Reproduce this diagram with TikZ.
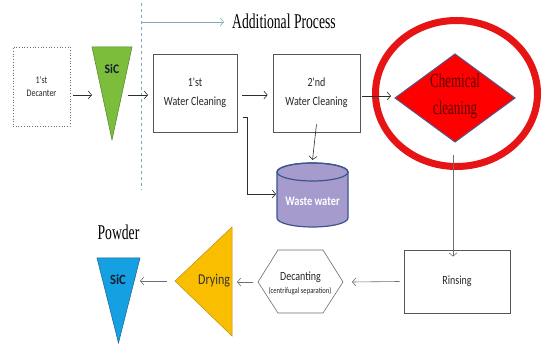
\documentclass[tikz,border=0pt]{standalone}
\usepackage{fontspec}
\setmainfont{Liberation Serif}
\newfontfamily\labelsans[FakeStretch=0.8]{Carlito}
\newfontfamily\sicsans[FakeStretch=0.9]{Carlito}
\newfontfamily\titleserif[FakeStretch=0.65]{Liberation Serif}
\usetikzlibrary{arrows.meta}

\definecolor{linedark}{RGB}{45,45,45}
\definecolor{linegray}{RGB}{110,110,110}
\definecolor{boxline}{RGB}{85,85,85}
\definecolor{sicgreen}{RGB}{124,190,60}
\definecolor{sicgreenline}{RGB}{80,130,40}
\definecolor{sicblue}{RGB}{20,160,225}
\definecolor{sicblueline}{RGB}{30,95,150}
\definecolor{dryamber}{RGB}{250,190,0}
\definecolor{dryamberline}{RGB}{190,140,20}
\definecolor{tanklilac}{RGB}{165,155,205}
\definecolor{tankline}{RGB}{60,85,140}
\definecolor{chemred}{RGB}{255,0,0}
\definecolor{chemline}{RGB}{85,85,140}
\definecolor{chemtext}{RGB}{90,0,0}
\definecolor{ringred}{RGB}{230,20,20}
\definecolor{extrateal}{RGB}{125,172,190}
\definecolor{sictext}{RGB}{20,30,45}

\begin{document}
\begin{tikzpicture}[x=1pt,y=-1pt,
  flow/.style={draw=linedark,line width=0.6pt,-{Straight Barb[length=3.5pt,width=8pt]}},
  flowgray/.style={flow,draw=linegray},
  stepbox/.style={draw=boxline,line width=0.7pt,fill=white,inner sep=0pt,
    font=\labelsans\fontsize{12.5}{19}\selectfont,align=center,text=black!85},
  label/.style={inner sep=0pt,align=center},
]
\useasboundingbox (0,0) rectangle (546,344);

% --- upper row -------------------------------------------------------
\node[stepbox,draw=linegray,dotted,minimum width=57pt,minimum height=79pt,
      font=\labelsans\fontsize{10}{13}\selectfont] (decanter) at (41.5,86.5) {1'st\\Decanter};

% green SiC hopper
\filldraw[fill=sicgreen,draw=sicgreenline,line width=0.5pt] (92,47) -- (132,47) -- (112,140) -- cycle;
\node[label,font=\sicsans\bfseries\fontsize{13}{15}\selectfont,text=sictext] (sicgreen) at (112,69) {SiC};

\node[stepbox,minimum width=84pt,minimum height=78pt] (wc1) at (195,93) {1'st\\Water Cleaning};
\node[stepbox,minimum width=87pt,minimum height=78pt] (wc2) at (316.5,93) {2'nd\\Water Cleaning};

% chemical cleaning diamond
\filldraw[fill=chemred,draw=chemline,line width=1pt] (395,98) -- (455,54) -- (515,98) -- (455,142) -- cycle;
\node[label,font=\titleserif\fontsize{20}{27}\selectfont,text=chemtext] (chem) at (455,96) {Chemical\\cleaning};
\draw[ringred,line width=7pt] (456.5,93.5) ellipse [x radius=81, y radius=73];

% waste water tank
\filldraw[fill=tanklilac,draw=tankline,line width=1.2pt]
  (277,172) -- (277,218) arc[start angle=180,end angle=0,x radius=35.5,y radius=9]
  -- (348,172) arc[start angle=0,end angle=-180,x radius=35.5,y radius=9] -- cycle;
\draw[tankline,line width=1.2pt] (312.5,172) ellipse [x radius=35.5, y radius=9];
\node[label,font=\labelsans\bfseries\fontsize{13}{15}\selectfont,text=white] (waste) at (312.5,201) {Waste water};

% additional-process marker
\coordinate (dashtop) at (141,3);
\coordinate (dashbot) at (141,190);
\draw[extrateal,line width=0.6pt,dash pattern=on 3.5pt off 2.5pt] (dashtop) -- (dashbot);
\node[label,anchor=west,font=\titleserif\fontsize{21}{24}\selectfont] (extra) at (232,21) {Additional Process};
\coordinate (extrastart) at (141,22);
\draw[flow,draw=extrateal] (extrastart) -- ([xshift=-8pt]extra.west |- extrastart);

% --- lower row -------------------------------------------------------
\node[stepbox,minimum width=106pt,minimum height=63pt] (rinsing) at (457,281.5) {Rinsing};

\draw[draw=linegray,line width=0.6pt,fill=white] (258,282) -- (278,250) -- (323,250) -- (343,282) -- (323,313) -- (278,313) -- cycle;
\node[label,font=\labelsans\fontsize{12.5}{14}\selectfont,text=black!85] (decant) at (300.5,277) {Decanting};
\node[label,font=\labelsans\fontsize{8.3}{10}\selectfont,text=black!85] (centri) at (300,291) {(centrifugal separation)};

% drying hopper (text runs into its flat edge)
\filldraw[fill=dryamber,draw=dryamberline,line width=0.5pt] (175,281) -- (232,227) -- (232,336) -- cycle;
\begin{scope}
  \clip (160,220) rectangle (232.5,340);
  \node[label,anchor=west,font=\labelsans\fontsize{15}{17}\selectfont,text=black!80] (drying) at (198,281) {Drying};
\end{scope}

% blue SiC powder hopper
\filldraw[fill=sicblue,draw=sicblueline,line width=0.5pt] (97,258) -- (140,258) -- (118.5,343) -- cycle;
\node[label,font=\sicsans\bfseries\fontsize{14}{16}\selectfont,text=sictext] (sicblue) at (118,280) {SiC};
\node[label,font=\titleserif\fontsize{21}{24}\selectfont] (powder) at (118.5,232) {Powder};

% --- connectors ------------------------------------------------------
\coordinate (sicgreenin) at (92,95);
\coordinate (sicgreenout) at (128,95);
\coordinate (wc1in) at (148,95);
\coordinate (chemin) at (391,96);
\coordinate (chemout) at (453,155);
\coordinate (tanktop) at (312.5,160);
\coordinate (tankside) at (276,194);
\coordinate (bend) at (247,117);
\coordinate (tapstart) at (243,117);
\coordinate (dryout) at (167,281);
\coordinate (sicbluein) at (140,281);
\coordinate (dryin) at (237,282);

\draw[flow] ([xshift=3pt]decanter.east |- sicgreenin) -- (sicgreenin);
\draw[flow] (sicgreenout) -- (wc1in);
\draw[flow] ([xshift=5pt]wc1.east |- 0,95) -- ([xshift=-5pt]wc2.west |- 0,95);
\draw[flow] ([xshift=2pt]wc2.east |- chemin) -- (chemin);
\draw[flow] ([yshift=8pt]wc2.south) -- (tanktop);
\draw[flow] (tapstart) -- (bend) -- (bend |- tankside) -- (tankside);
\draw[flowgray] (chemout) -- ([yshift=-7pt]rinsing.north -| chemout);
\draw[flowgray] ([xshift=-4pt]rinsing.west) -- (352,282);
\draw[flowgray] (253,282) -- (dryin);
\draw[flowgray] (dryout) -- (sicbluein);
\end{tikzpicture}
\end{document}
